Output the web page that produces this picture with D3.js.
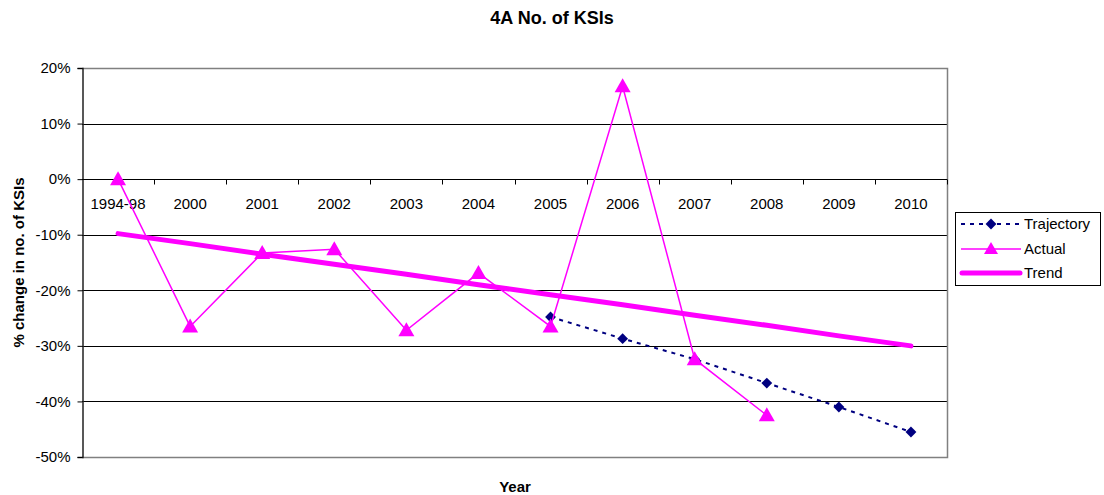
<!DOCTYPE html>
<html><head><meta charset="utf-8">
<script src="https://cdn.jsdelivr.net/npm/d3@7/dist/d3.min.js"></script>
<style>body{margin:0;background:#fff}svg{display:block;font-family:"Liberation Sans",Arial,sans-serif}</style>
</head><body>
<svg id="c" width="1104" height="495"></svg>
<script>
const categories = ["1994-98","2000","2001","2002","2003","2004","2005","2006","2007","2008","2009","2010"];
const actual = [0,-26.5,-13.3,-12.6,-27.2,-16.9,-26.5,16.7,-32.4,-42.5,null,null];
const trajectory = [null,null,null,null,null,null,-24.8,-28.7,-32.4,-36.7,-41.0,-45.5];
const trend = [-9.8,-11.6,-13.5,-15.3,-17.1,-19.0,-20.8,-22.6,-24.5,-26.3,-28.2,-30.0];
const yTicks = [20,10,0,-10,-20,-30,-40,-50];

const svg = d3.select("#c");
const L=82,R=947,T=68,B=457;
const x = d3.scaleBand().domain(categories).range([L,R]);
const y = d3.scaleLinear().domain([-50,20]).range([B,T]);
const cx = c => x(c)+x.bandwidth()/2;

// gridlines
svg.append("g").selectAll("line").data(yTicks.filter(t=>t!==20&&t!==-50)).join("line")
  .attr("x1",L).attr("x2",R).attr("y1",d=>Math.round(y(d))+0.5).attr("y2",d=>Math.round(y(d))+0.5)
  .attr("stroke","#000").attr("stroke-width",1);
// border
svg.append("path").attr("d",`M${L},${Math.round(T)+0.5}H${R+0.5}V${Math.round(B)+0.5}H${L}`)
  .attr("fill","none").attr("stroke","#808080").attr("stroke-width",1.5);

// y axis
const ya = svg.append("g").attr("transform",`translate(${L+0.5},0)`)
  .call(d3.axisLeft(y).tickValues(yTicks).tickSize(5).tickPadding(7).tickFormat(d=>d+"%"));
ya.select(".domain").attr("stroke","#222").attr("stroke-width",1.5);
ya.selectAll("text").attr("font-size",15).attr("fill","#000");
ya.selectAll(".tick line").attr("stroke","#000");

// x axis at 0
const y0 = Math.round(y(0))+0.5;
const bounds = categories.slice(1).map(c=>x(c)).concat([R]);
svg.append("g").selectAll("line").data(bounds).join("line")
  .attr("x1",d=>Math.round(d)+0.5).attr("x2",d=>Math.round(d)+0.5).attr("y1",y0).attr("y2",y0+5)
  .attr("stroke","#000");
svg.append("line").attr("x1",L).attr("x2",R).attr("y1",y0).attr("y2",y0).attr("stroke","#000");
svg.append("g").selectAll("text").data(categories).join("text")
  .attr("x",d=>cx(d)).attr("y",y0+29).attr("text-anchor","middle").attr("font-size",15).text(d=>d);

// trend
svg.append("path").datum(categories.map((c,i)=>[cx(c),y(trend[i])]))
  .attr("d",d3.line()).attr("fill","none").attr("stroke","#FF00FF").attr("stroke-width",5).attr("stroke-linecap","round");

// trajectory
const trajPts = categories.map((c,i)=>({c,v:trajectory[i]})).filter(d=>d.v!==null);
svg.append("path").datum(trajPts).attr("d",d3.line().x(d=>cx(d.c)).y(d=>y(d.v)))
  .attr("fill","none").attr("stroke","#000080").attr("stroke-width",2).attr("stroke-dasharray","4,5");
svg.append("g").selectAll("path").data(trajPts).join("path")
  .attr("d",d3.symbol(d3.symbolDiamond2,75)).attr("transform",d=>`translate(${cx(d.c)},${y(d.v)})`)
  .attr("fill","#000080");

// actual
const actPts = categories.map((c,i)=>({c,v:actual[i]})).filter(d=>d.v!==null);
svg.append("path").datum(actPts).attr("d",d3.line().x(d=>cx(d.c)).y(d=>y(d.v)))
  .attr("fill","none").attr("stroke","#FF00FF").attr("stroke-width",1.5);
const tri = "M0,-8L8,6L-8,6Z";
svg.append("g").selectAll("path").data(actPts).join("path")
  .attr("d",tri).attr("transform",d=>`translate(${cx(d.c)},${y(d.v)})`).attr("fill","#FF00FF");

// title and labels
svg.append("text").attr("x",552).attr("y",24).attr("text-anchor","middle").attr("font-size",18).attr("font-weight","bold").text("4A No. of KSIs");
svg.append("text").attr("x",515).attr("y",492).attr("text-anchor","middle").attr("font-size",15).attr("font-weight","bold").text("Year");
svg.append("text").attr("transform",`translate(24,${(T+B)/2}) rotate(-90)`).attr("text-anchor","middle").attr("font-size",15).attr("font-weight","bold").text("% change in no. of KSIs");

// legend
const lg = svg.append("g");
lg.append("rect").attr("x",955.5).attr("y",212.5).attr("width",145).attr("height",73).attr("fill","#fff").attr("stroke","#000");
const ly=[224,249,273];
lg.append("line").attr("x1",961).attr("x2",1022).attr("y1",ly[0]).attr("y2",ly[0]).attr("stroke","#000080").attr("stroke-width",2).attr("stroke-dasharray","4,5");
lg.append("path").attr("d",d3.symbol(d3.symbolDiamond2,75)).attr("transform",`translate(991,${ly[0]})`).attr("fill","#000080");
lg.append("line").attr("x1",961).attr("x2",1021).attr("y1",ly[1]).attr("y2",ly[1]).attr("stroke","#FF00FF").attr("stroke-width",1.5);
lg.append("path").attr("d","M0,-7L7,5L-7,5Z").attr("transform",`translate(991,${ly[1]})`).attr("fill","#FF00FF");
lg.append("line").attr("x1",962).attr("x2",1020).attr("y1",ly[2]).attr("y2",ly[2]).attr("stroke","#FF00FF").attr("stroke-width",5).attr("stroke-linecap","round");
lg.selectAll("text.l").data(["Trajectory","Actual","Trend"]).join("text").attr("class","l")
  .attr("x",1024).attr("y",(d,i)=>ly[i]+5).attr("font-size",15).text(d=>d);
</script>
</body></html>
